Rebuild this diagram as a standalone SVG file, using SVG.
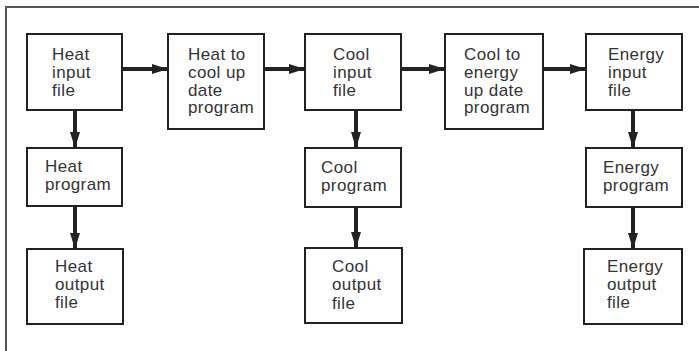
<svg xmlns="http://www.w3.org/2000/svg" width="699" height="351" viewBox="0 0 699 351">
<defs>
<style>
.box{fill:#fff;stroke:#222;stroke-width:2}
.t{font-family:"Liberation Sans",Arial,sans-serif;font-size:17px;fill:#333;letter-spacing:0.4px}
.c{stroke:#222;stroke-width:4;fill:none}
.frame{stroke:#555;stroke-width:2;fill:none}
</style>
<marker id="ah" markerUnits="userSpaceOnUse" markerWidth="16" markerHeight="12" viewBox="0 0 16 12" refX="16" refY="6" orient="auto">
<path d="M0,1 L16,6 L0,11 Z" fill="#222"/>
</marker>
</defs>
<rect width="699" height="351" fill="#fff"/>
<path class="frame" d="M6,351 V7 H699"/>
<g id="connectors">
<line class="c" x1="122" y1="69" x2="168" y2="69" marker-end="url(#ah)"/>
<line class="c" x1="264" y1="69" x2="305" y2="69" marker-end="url(#ah)"/>
<line class="c" x1="401" y1="69" x2="445" y2="69" marker-end="url(#ah)"/>
<line class="c" x1="543" y1="69" x2="586" y2="69" marker-end="url(#ah)"/>
<line class="c" x1="75" y1="110" x2="75" y2="148" marker-end="url(#ah)"/>
<line class="c" x1="75" y1="206" x2="75" y2="249" marker-end="url(#ah)"/>
<line class="c" x1="356" y1="110" x2="356" y2="148" marker-end="url(#ah)"/>
<line class="c" x1="356" y1="207" x2="356" y2="248" marker-end="url(#ah)"/>
<line class="c" x1="633" y1="110" x2="633" y2="148" marker-end="url(#ah)"/>
<line class="c" x1="633" y1="207" x2="633" y2="249" marker-end="url(#ah)"/>
</g>
<g id="heat-input"><rect class="box" x="27" y="34" width="95" height="76"/>
<text class="t" x="52" y="60">Heat</text><text class="t" x="52" y="78">input</text><text class="t" x="52" y="96">file</text></g>
<g id="heat-to-cool"><rect class="box" x="168" y="34" width="96" height="95"/>
<text class="t" x="188" y="60">Heat to</text><text class="t" x="188" y="78">cool up</text><text class="t" x="188" y="96">date</text><text class="t" x="188" y="113">program</text></g>
<g id="cool-input"><rect class="box" x="305" y="34" width="96" height="76"/>
<text class="t" x="333" y="60">Cool</text><text class="t" x="333" y="78">input</text><text class="t" x="333" y="96">file</text></g>
<g id="cool-to-energy"><rect class="box" x="445" y="34" width="98" height="95"/>
<text class="t" x="464" y="60">Cool to</text><text class="t" x="464" y="78">energy</text><text class="t" x="464" y="96">up date</text><text class="t" x="464" y="113">program</text></g>
<g id="energy-input"><rect class="box" x="586" y="34" width="96" height="76"/>
<text class="t" x="608" y="60">Energy</text><text class="t" x="608" y="78">input</text><text class="t" x="608" y="96">file</text></g>
<g id="heat-program"><rect class="box" x="27" y="148" width="95" height="58"/>
<text class="t" x="45" y="172">Heat</text><text class="t" x="45" y="190">program</text></g>
<g id="cool-program"><rect class="box" x="305" y="148" width="96" height="59"/>
<text class="t" x="321" y="173">Cool</text><text class="t" x="321" y="191">program</text></g>
<g id="energy-program"><rect class="box" x="586" y="148" width="96" height="59"/>
<text class="t" x="603" y="173">Energy</text><text class="t" x="603" y="191">program</text></g>
<g id="heat-output"><rect class="box" x="27" y="249" width="96" height="75"/>
<text class="t" x="55" y="272">Heat</text><text class="t" x="55" y="290">output</text><text class="t" x="55" y="308">file</text></g>
<g id="cool-output"><rect class="box" x="305" y="248" width="97" height="75"/>
<text class="t" x="332" y="272">Cool</text><text class="t" x="332" y="290">output</text><text class="t" x="332" y="309">file</text></g>
<g id="energy-output"><rect class="box" x="584" y="249" width="98" height="75"/>
<text class="t" x="607" y="272">Energy</text><text class="t" x="607" y="290">output</text><text class="t" x="607" y="308">file</text></g>
</svg>
